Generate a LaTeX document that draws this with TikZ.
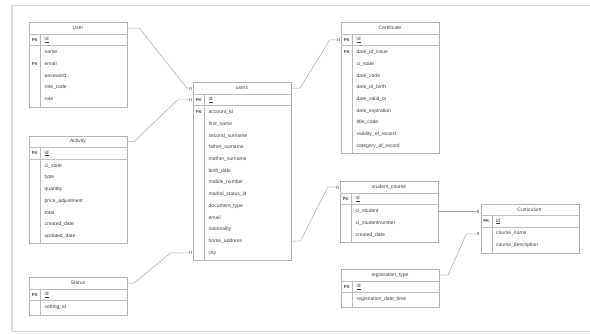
\documentclass[tikz,border=0pt]{standalone}
\usepackage{fontspec}
\setmainfont{Liberation Sans}
\usetikzlibrary{arrows.meta}
\tikzset{
  tblbox/.style={draw=gray!60, line width=0.6pt, fill=white, inner sep=0pt},
  tblhead/.style={font=\fontsize{5}{6}\selectfont, text=black!75, inner sep=0pt, minimum width=98pt, minimum height=12pt},
  keycell/.style={font=\fontsize{4.2}{5}\selectfont\bfseries, text=black!75, inner sep=0pt, minimum width=11.5pt, minimum height=11pt},
  rowcell/.style={font=\fontsize{5}{6}\selectfont, text=black!75, anchor=west, inner xsep=4pt, inner ysep=0pt, minimum height=11pt, text width=78.5pt, align=left},
  sepline/.style={draw=gray!50, line width=0.9pt},
  colline/.style={draw=gray!55, line width=0.5pt},
  link/.style={draw=gray!65, line width=0.5pt, rounded corners=0.5pt,
    arrows={-Bar[width=3pt,sep=0.9pt]Bar[width=3pt,sep=1.5pt]}},
  frame/.style={draw=gray!30, line width=1.6pt},
}
% #1 id, #2 left x, #3 top y, #4 title, #5 number of rows, #6 rows key/label
\newcommand{\ertable}[6]{%
  \pgfmathsetmacro\erH{24.5+11.7*#5+1.5}%
  \node[tblbox, minimum width=98pt, minimum height=\erH pt, anchor=north west] (#1) at (#2,#3) {};
  \node[tblhead] (#1h) at (#2+49,#3+6) {#4};
  \draw[sepline] (#2,#3+12) -- (#2+98,#3+12);
  \node[keycell] (#1k0) at (#2+5.75,#3+17.75) {PK};
  \node[rowcell] (#1r0) at (#2+11.5,#3+17.75) {\underline{id}};
  \draw[sepline] (#2,#3+23.8) -- (#2+98,#3+23.8);
  \draw[colline] (#2+11.5,#3+12) -- (#2+11.5,#3+\erH);
  \foreach \k/\t [count=\i] in {#6} {
    \node[keycell] (#1k\i) at (#2+5.75,#3+24.5+11.7*\i-5.85) {\k};
    \node[rowcell] (#1r\i) at (#2+11.5,#3+24.5+11.7*\i-5.85) {\t};
  }%
}
\begin{document}
\begin{tikzpicture}[x=1pt,y=-1pt]
\useasboundingbox (0,0) rectangle (590,333);
\fill[white] (0,0) rectangle (590,333);
\draw[frame] (12,5.5) rectangle (600,331.5);

\ertable{ta}{29}{22}{User}{5}{/name,FK/email,/password,/role\_code,/role}
\ertable{tb}{29}{135.5}{Activity}{7}{/ci\_state,/type,/quantity,/price\_adjustment,/total,/created\_date,/updated\_date}
\ertable{tc}{29}{277}{Status}{1}{/setting\_id}
\ertable{cu}{193}{82}{users}{13}{FK/account\_id,/first\_name,/second\_surname,/father\_surname,/mother\_surname,/birth\_date,/mobile\_number,/marital\_status\_id,/document\_type,/email,/nationality,/home\_address,/city}
\ertable{ce}{341}{22}{Certificate}{9}{FK/date\_of\_issue,/ci\_state,/date\_code,/date\_of\_birth,/date\_valid\_to,/date\_expiration,/title\_code,/validity\_of\_record,/category\_of\_record}
\ertable{en}{340}{181}{student\_course}{3}{/ci\_student,/ci\_studentnumber,/created\_date}
\ertable{rg}{341}{269}{registration\_type}{1}{/registration\_date\_time}
\ertable{co}{480.5}{203.5}{Curriculum}{2}{/course\_name,/course\_description}

\draw[link] (tah.east) -- ++(12,0) -- ([xshift=-6pt]cuh.west) -- (cuh.west);
\draw[link] (tbh.east) -- ++(7,0) -- ([xshift=-15pt]cuk0.west) -- (cuk0.west);
\draw[link] (tch.east) -- ++(7,0) -- ([xshift=-22pt]cuk13.west) -- (cuk13.west);
\draw[link] (cuh.east) -- ++(9,0) -- ([xshift=-11pt]cek0.west) -- (cek0.west);
\draw[link] (cur12.east) -- ++(9,0) -- ([xshift=-12pt]enh.west) -- (enh.west);
\draw[link] (enr1.east) -- (enr1.east -| coh.west);
\draw[link] (rgh.east) -- ++(9,0) -- ([xshift=-14pt]cok1.west) -- (cok1.west);
\end{tikzpicture}
\end{document}
